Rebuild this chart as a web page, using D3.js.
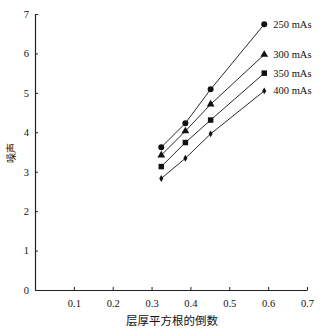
<!DOCTYPE html>
<html><head><meta charset="utf-8">
<script src="https://cdn.jsdelivr.net/npm/d3@7"></script>
<style>body{margin:0;background:#fff}svg{display:block}</style>
</head><body>
<svg id="c" width="325" height="331"></svg>
<script>
const xTicks = [0.1,0.2,0.3,0.4,0.5,0.6,0.7];
const yTicks = [0,1,2,3,4,5,6,7];
const xVals = [0.325,0.387,0.452,0.59];
const seriesNames = ["250 mAs","300 mAs","350 mAs","400 mAs"];
const s250 = [3.62,4.23,5.09,6.74];
const s300 = [3.42,4.03,4.71,5.97];
const s350 = [3.13,3.74,4.31,5.50];
const s400 = [2.83,3.34,3.96,5.05];
const markers = ["circle","triangle","square","diamond"];
const xTitle = "层厚平方根的倒数";
const yTitle = "噪声";

const svg = d3.select("#c");
const x = d3.scaleLinear().domain([0,0.7]).range([35,307]);
const y = d3.scaleLinear().domain([0,7]).range([290,14]);
const serif = "'Liberation Serif','Times New Roman',serif";

// axes
const xa = svg.append("g").attr("transform","translate(0,290)")
  .call(d3.axisBottom(x).tickValues(xTicks).tickSizeInner(-3).tickSizeOuter(0).tickPadding(8).tickFormat(d3.format(".1f")));
const ya = svg.append("g").attr("transform","translate(35,0)")
  .call(d3.axisLeft(y).tickValues(yTicks).tickSizeInner(-3).tickSizeOuter(0).tickPadding(6).tickFormat(d3.format("d")));
[xa,ya].forEach(a=>{
  a.select(".domain").attr("stroke","#222").attr("stroke-width",1.2);
  a.selectAll(".tick line").attr("stroke","#222");
  a.selectAll("text").attr("font-family",serif).attr("font-size",10.5).attr("fill","#111");
});
xa.selectAll("text").attr("dy","0.9em");

const data = [s250,s300,s350,s400];
const line = d3.line().x((d,i)=>x(xVals[i])).y(d=>y(d));
data.forEach((s,k)=>{
  svg.append("path").attr("d",line(s)).attr("fill","none").attr("stroke","#111").attr("stroke-width",0.9);
  const sym = {circle:d3.symbolCircle,triangle:d3.symbolTriangle,square:d3.symbolSquare,diamond:d3.symbolDiamond}[markers[k]];
  const size = {circle:28,triangle:26,square:30,diamond:14}[markers[k]];
  svg.selectAll(null).data(s).enter().append("path")
    .attr("transform",(d,i)=>`translate(${x(xVals[i])},${y(d)})`)
    .attr("d",d3.symbol().type(sym).size(size)).attr("fill","#111");
  svg.append("text").attr("x",x(xVals[3])+9).attr("y",y(s[3])+3.5)
    .attr("font-family",serif).attr("font-size",10.5).attr("fill","#111").text(seriesNames[k]);
});

svg.append("text").attr("x",172).attr("y",325).attr("text-anchor","middle")
  .attr("font-family","'Noto Sans CJK SC',sans-serif").attr("font-size",11.5).attr("fill","#111").text(xTitle);
svg.append("text").attr("transform","translate(15,153) rotate(-90)").attr("text-anchor","middle")
  .attr("font-family","'Noto Sans CJK SC',sans-serif").attr("font-size",10).attr("fill","#111").text(yTitle);
</script>
</body></html>
